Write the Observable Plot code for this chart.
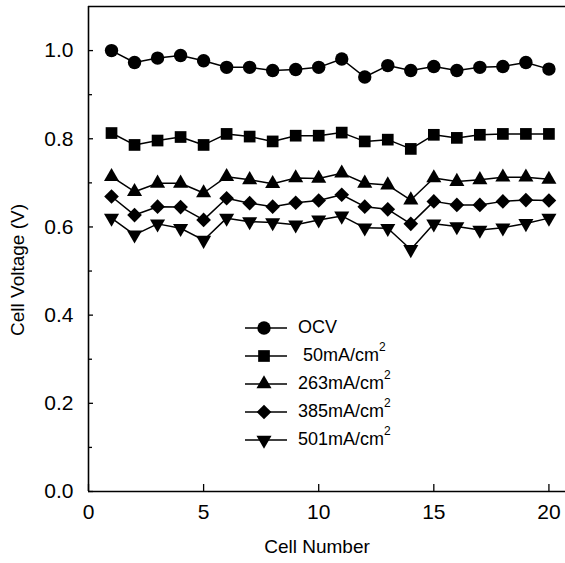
<!DOCTYPE html>
<html><head><meta charset="utf-8">
<script src="https://cdn.jsdelivr.net/npm/d3@7"></script>
<script src="https://cdn.jsdelivr.net/npm/@observablehq/plot@0.6"></script>
<style>body{margin:0;background:#fff} #chart{width:565px;height:563px}</style>
</head><body><div id="chart"></div>
<script>
const cells = [1,2,3,4,5,6,7,8,9,10,11,12,13,14,15,16,17,18,19,20];
const ocv  = [1.000,0.973,0.983,0.989,0.977,0.962,0.962,0.955,0.957,0.962,0.981,0.940,0.966,0.955,0.964,0.955,0.962,0.964,0.973,0.958];
const i50  = [0.813,0.786,0.796,0.804,0.786,0.811,0.805,0.794,0.807,0.807,0.814,0.794,0.798,0.777,0.809,0.802,0.809,0.811,0.811,0.811];
const i263 = [0.714,0.680,0.699,0.699,0.677,0.714,0.707,0.698,0.711,0.710,0.722,0.699,0.695,0.661,0.711,0.703,0.707,0.713,0.713,0.708];
const i385 = [0.669,0.627,0.646,0.645,0.616,0.665,0.654,0.646,0.655,0.660,0.673,0.646,0.640,0.607,0.658,0.650,0.650,0.658,0.661,0.660];
const i501 = [0.620,0.582,0.607,0.597,0.570,0.620,0.612,0.610,0.605,0.616,0.625,0.598,0.597,0.549,0.607,0.601,0.593,0.598,0.608,0.620];
const seriesNames = ["OCV", " 50mA/cm", "263mA/cm", "385mA/cm", "501mA/cm"];
const xTicks = [0, 5, 10, 15, 20];
const yTicks = [0.0, 0.2, 0.4, 0.6, 0.8, 1.0];
const yMinorTicks = [0.1, 0.3, 0.5, 0.7, 0.9];
const xLabel = "Cell Number";
const yLabel = "Cell Voltage (V)";

const font = "'Liberation Sans', Arial, sans-serif";
const styles = [
  {symbol: "circle", r: 6.7, rotate: 0, d3sym: d3.symbolCircle},
  {symbol: "square", r: 6.6, rotate: 0, d3sym: d3.symbolSquare},
  {symbol: "triangle", r: 5.6, rotate: 0, d3sym: d3.symbolTriangle},
  {symbol: "diamond2", r: 6.6, rotate: 0, d3sym: d3.symbolDiamond2},
  {symbol: "triangle", r: 5.6, rotate: 180, d3sym: d3.symbolTriangle}
];
const allValues = [ocv, i50, i263, i385, i501];
const data = allValues.flatMap((vals, k) => vals.map((v, i) => ({cell: cells[i], v, s: seriesNames[k]})));

const dotMarks = seriesNames.map((name, k) =>
  Plot.dot(data.filter(d => d.s === name), {x: "cell", y: "v", symbol: styles[k].symbol, r: styles[k].r, rotate: styles[k].rotate, fill: "black", stroke: "none"})
);

const plot = Plot.plot({
  width: 565, height: 563,
  marginLeft: 88, marginRight: 0, marginTop: 6, marginBottom: 72,
  style: {fontFamily: font, background: "white", color: "black"},
  x: {domain: [0, 20.72]},
  y: {domain: [0, 1.1]},
  marks: [
    Plot.axisY({ticks: yTicks, tickFormat: d3.format(".1f"), tickSize: -5, tickPadding: 20, fontSize: 21, label: null, strokeWidth: 1.3}),
    Plot.axisY({ticks: yMinorTicks, tickFormat: () => "", tickSize: -4, label: null, strokeWidth: 1.3}),
    Plot.axisX({ticks: xTicks, tickFormat: d3.format("d"), tickSize: -7, tickPadding: 20, fontSize: 21, label: null, strokeWidth: 1.3}),
    Plot.ruleY([0], {strokeWidth: 1.6}),
    Plot.ruleY([1.1], {strokeWidth: 1.6}),
    Plot.ruleX([0], {strokeWidth: 1.6}),
    Plot.line(data, {x: "cell", y: "v", z: "s", stroke: "black", strokeWidth: 1.5}),
    ...dotMarks
  ]
});

const svg = d3.select(plot);
// axis titles
svg.append("text").attr("x", 317).attr("y", 548).attr("text-anchor", "middle").attr("dominant-baseline", "middle")
  .attr("font-family", font).attr("font-size", 19).attr("fill", "black").text(xLabel);
svg.append("text").attr("transform", "translate(19,270) rotate(-90)").attr("text-anchor", "middle").attr("dominant-baseline", "middle")
  .attr("font-family", font).attr("font-size", 19).attr("fill", "black").text(yLabel);

// legend
const lg = svg.append("g");
seriesNames.forEach((name, k) => {
  const y = 328 + k * 28;
  lg.append("line").attr("x1", 245).attr("x2", 287).attr("y1", y).attr("y2", y).attr("stroke", "black").attr("stroke-width", 1.5);
  lg.append("path").attr("d", d3.symbol(styles[k].d3sym, Math.PI * styles[k].r * styles[k].r)())
    .attr("transform", `translate(264,${y}) rotate(${styles[k].rotate})`).attr("fill", "black");
  const t = lg.append("text").attr("x", 298).attr("y", y).attr("dominant-baseline", "middle").attr("text-anchor", "start")
    .attr("font-family", font).attr("font-size", 18).attr("fill", "black").attr("xml:space", "preserve").style("white-space", "pre");
  t.append("tspan").text(name);
  if (k > 0) t.append("tspan").attr("font-size", 12).attr("dy", -8).text("2");
});

document.getElementById("chart").appendChild(plot);
</script>
</body></html>
